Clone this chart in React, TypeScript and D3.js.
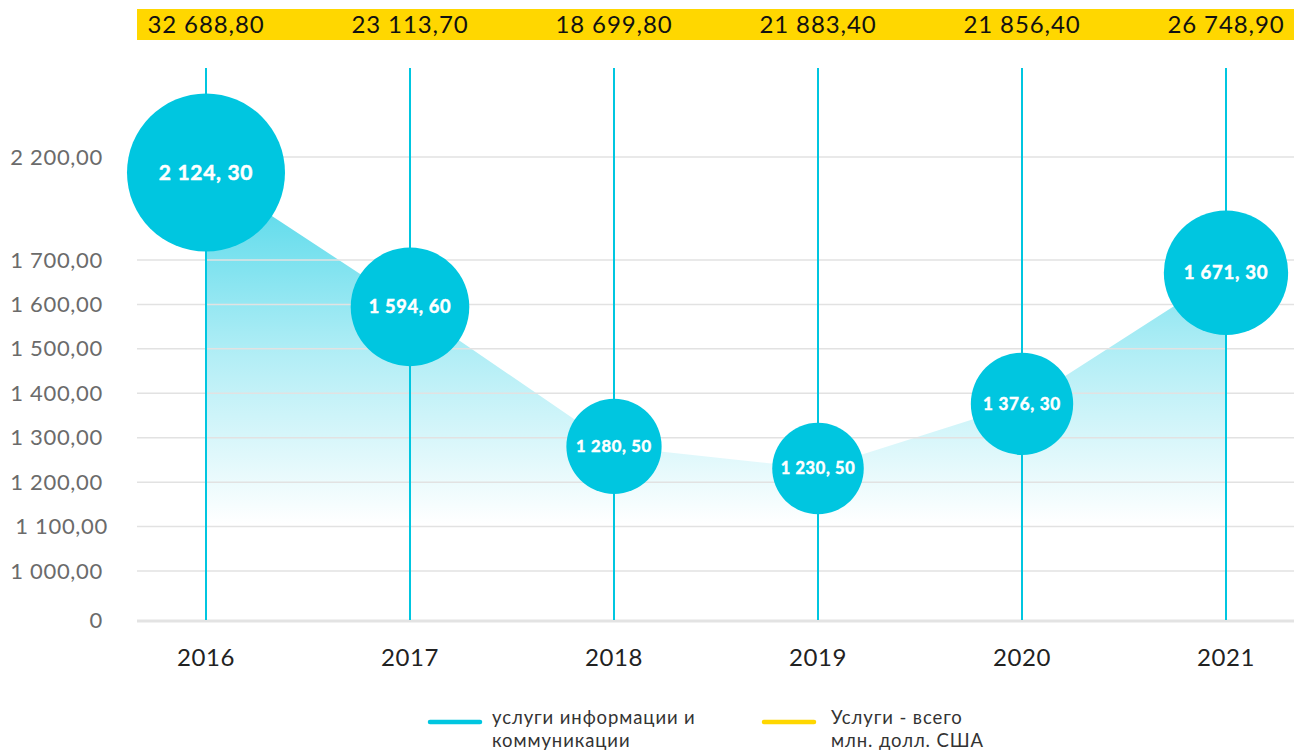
import React from "react";
import * as d3 from "d3";

const years = ["2016", "2017", "2018", "2019", "2020", "2021"];
const ictValues = [2124.3, 1594.6, 1280.5, 1230.5, 1376.3, 1671.3];
const totalServices = [32688.8, 23113.7, 18699.8, 21883.4, 21856.4, 26748.9];
const yTicks = [0, 1000, 1100, 1200, 1300, 1400, 1500, 1600, 1700, 2200];
const legendItems = [
  { lines: ["услуги информации и", "коммуникации"], color: "#00c6e0" },
  { lines: ["Услуги - всего", "млн. долл. США"], color: "#ffd700" },
];

const W = 1294;
const H = 754;
const CYAN = "#00c6e0";
const NUM_FONT = "Lato, 'Open Sans', sans-serif";
const TXT_FONT = "Lato, 'Noto Sans', 'Open Sans', sans-serif";

const locale = d3.formatLocale({
  decimal: ",",
  thousands: " ",
  grouping: [3],
  currency: ["", ""],
});
const fmt = locale.format(",.2f");
const tickFmt = (v: number) => (v === 0 ? "0" : fmt(v));
const bubbleFmt = (v: number) => fmt(v).replace(",", ", ");

export default function App() {
  const x = d3.scalePoint<string>().domain(years).range([206, 1226]);
  const y = d3
    .scaleLinear()
    .domain([0, 1000, 1700, 2200])
    .range([620, 571, 260, 157]);
  const r = d3.scaleLinear().domain([0, d3.max(ictValues) as number]).range([0, 79]);

  const pts = years.map((yr, i) => ({ yr, v: ictValues[i] }));
  const area = d3
    .area<{ yr: string; v: number }>()
    .x((d) => x(d.yr) as number)
    .y0(y(0))
    .y1((d) => y(d.v));

  const left = 137;
  const right = W;

  return (
    <svg
      width={W}
      height={H}
      style={{ position: "absolute", left: 0, top: 0, display: "block", background: "#fff" }}
    >
      <defs>
        <linearGradient id="areaGrad" gradientUnits="userSpaceOnUse" x1="0" y1="150" x2="0" y2="525">
          <stop offset="0" stopColor={CYAN} stopOpacity={0.75} />
          <stop offset="0.55" stopColor={CYAN} stopOpacity={0.3} />
          <stop offset="1" stopColor={CYAN} stopOpacity={0} />
        </linearGradient>
      </defs>

      {/* top yellow band */}
      <rect x={left} y={9} width={right - left} height={31} fill="#ffd700" />
      {totalServices.map((v, i) => (
        <text
          key={"t" + i}
          x={x(years[i]) as number}
          y={33}
          textAnchor="middle"
          fontFamily={NUM_FONT}
          fontSize={24}
          letterSpacing={0.9}
          fill="#111"
        >
          {fmt(v)}
        </text>
      ))}

      {/* area */}
      <path d={area(pts) as string} fill="url(#areaGrad)" />

      {/* gridlines */}
      {yTicks
        .filter((t) => t !== 0)
        .map((t) => (
          <line
            key={"g" + t}
            x1={left}
            x2={right}
            y1={y(t)}
            y2={y(t)}
            stroke="#e2e2e2"
            strokeWidth={1.5}
          />
        ))}
      <line x1={left} x2={right} y1={y(0) + 1} y2={y(0) + 1} stroke="#e3e3e3" strokeWidth={3} />

      {/* y tick labels */}
      {yTicks.map((t) => (
        <text
          key={"yl" + t}
          x={t === 1100 ? 108 : 103}
          y={y(t) + 7.5}
          textAnchor="end"
          fontFamily={NUM_FONT}
          fontSize={22}
          letterSpacing={0.7}
          fill="#6b6b6b"
        >
          {tickFmt(t)}
        </text>
      ))}

      {/* vertical lines */}
      {years.map((yr) => (
        <line
          key={"v" + yr}
          x1={x(yr) as number}
          x2={x(yr) as number}
          y1={68}
          y2={y(0)}
          stroke={CYAN}
          strokeWidth={2}
        />
      ))}

      {/* bubbles */}
      {pts.map((d) => {
        const rad = r(d.v);
        const fs = 9.9 + rad * 0.14;
        return (
          <g key={"b" + d.yr}>
            <circle cx={x(d.yr) as number} cy={y(d.v)} r={rad} fill={CYAN} />
            <text
              x={x(d.yr) as number}
              y={y(d.v) + fs * 0.36}
              textAnchor="middle"
              fontFamily={NUM_FONT}
              fontWeight={700}
              fontSize={fs}
              letterSpacing={0.7}
              fill="#fff"
              stroke="#fff"
              strokeWidth={0.5}
            >
              {bubbleFmt(d.v)}
            </text>
          </g>
        );
      })}

      {/* x labels */}
      {years.map((yr) => (
        <text
          key={"xl" + yr}
          x={x(yr) as number}
          y={666}
          textAnchor="middle"
          fontFamily={NUM_FONT}
          fontSize={24}
          letterSpacing={0.6}
          fill="#222"
        >
          {yr}
        </text>
      ))}

      {/* legend */}
      {legendItems.map((item, i) => {
        const lx = i === 0 ? 430 : 764;
        const tx = lx + 62 + (i === 1 ? 5 : 0);
        return (
          <g key={"lg" + i}>
            <line
              x1={lx}
              x2={lx + 50}
              y1={722}
              y2={722}
              stroke={item.color}
              strokeWidth={4.5}
              strokeLinecap="round"
            />
            {item.lines.map((ln, j) => (
              <text
                key={j}
                x={tx}
                y={724 + j * 23}
                fontFamily={TXT_FONT}
                fontSize={18.5}
                letterSpacing={0.9}
                fill="#333"
              >
                {ln}
              </text>
            ))}
          </g>
        );
      })}
    </svg>
  );
}
